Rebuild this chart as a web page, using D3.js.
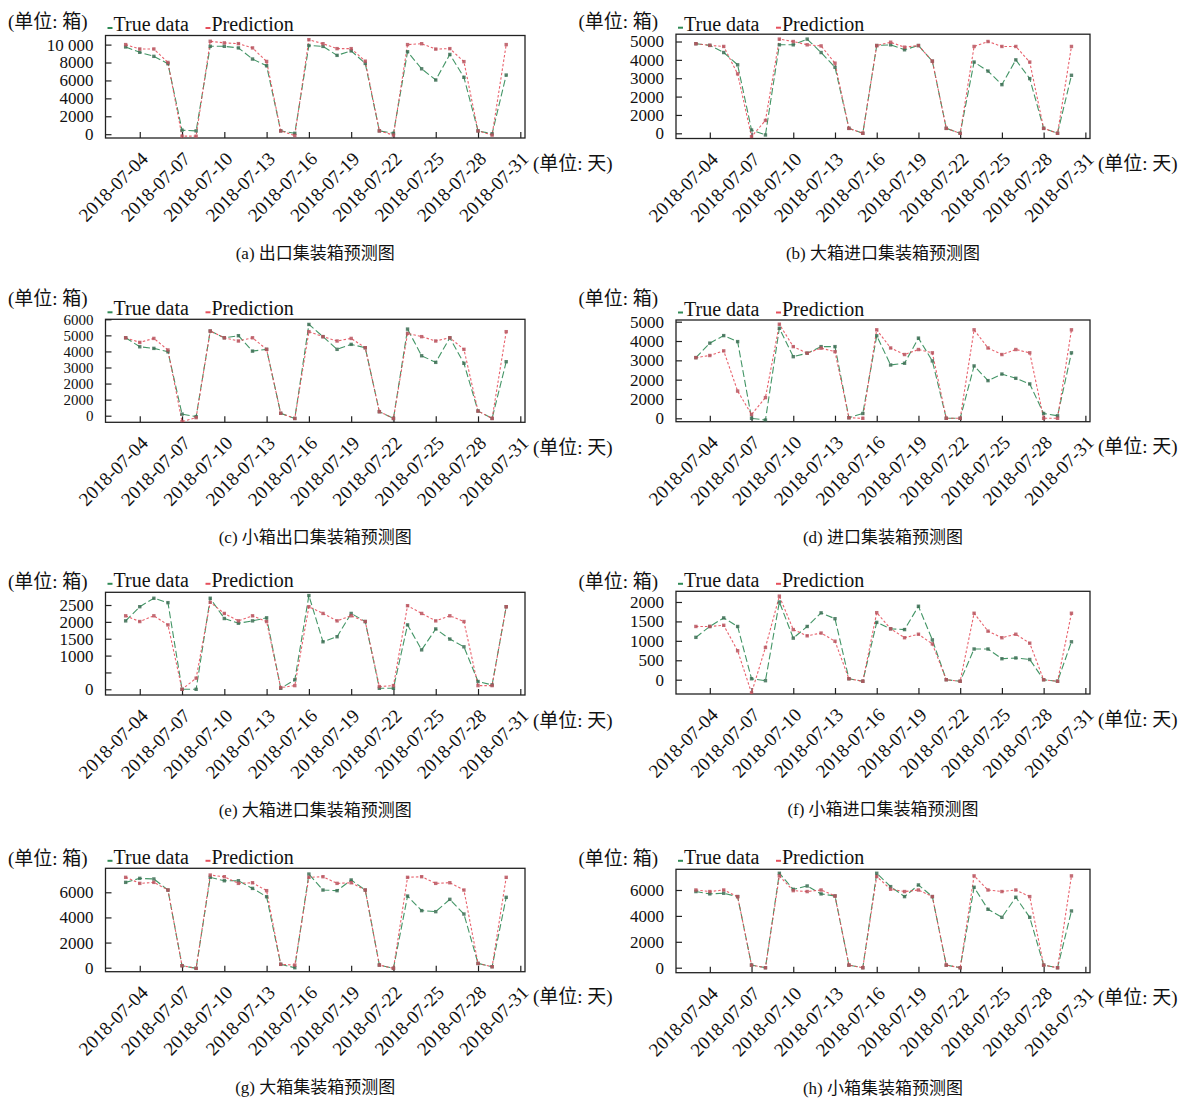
<!DOCTYPE html>
<html>
<head>
<meta charset="utf-8">
<script src="https://cdn.jsdelivr.net/npm/d3@7"></script>
<style>
  body { margin: 0; background: #fff; }
  svg text { font-family: "Liberation Serif", "Times New Roman", "Noto Sans CJK SC", serif; fill: #111; }
</style>
</head>
<body>
<svg id="chart" width="1195" height="1100"></svg>
<script>
// days shown in every panel
var dates = ["2018-07-03", "2018-07-04", "2018-07-05", "2018-07-06", "2018-07-07", "2018-07-08", "2018-07-09",
    "2018-07-10", "2018-07-11", "2018-07-12", "2018-07-13", "2018-07-14", "2018-07-15", "2018-07-16",
    "2018-07-17", "2018-07-18", "2018-07-19", "2018-07-20", "2018-07-21", "2018-07-22", "2018-07-23",
    "2018-07-24", "2018-07-25", "2018-07-26", "2018-07-27", "2018-07-28", "2018-07-29", "2018-07-30"];
var xTicks = ["2018-07-04", "2018-07-07", "2018-07-10", "2018-07-13", "2018-07-16",
    "2018-07-19", "2018-07-22", "2018-07-25", "2018-07-28", "2018-07-31"];
var xLimits = ["2018-07-01T13:40", "2018-07-31T08:00"];

// (a) 出口
var trueA = [9740, 9140, 8690, 7870, 450, 370, 9810, 9810, 9630, 8390, 7640, 370, 100, 9900, 9800, 8800, 9300, 7900, 370, 100, 9200, 7300, 6050, 8900, 6350, 370, 50, 6600];
var predA = [10000, 9510, 9510, 8010, -220, -220, 10370, 10190, 10110, 9630, 8120, 370, -150, 10550, 10100, 9550, 9550, 8150, 370, -100, 10000, 10100, 9500, 9550, 8100, 370, -100, 10000];
// (b) 大箱进口 (top right)
var trueB = [4880, 4790, 4400, 3730, 180, -90, 4820, 4820, 5130, 4400, 3600, 270, 0, 4780, 4820, 4550, 4780, 3930, 270, 0, 3880, 3390, 2650, 4000, 2980, 270, 0, 3160];
var predB = [4880, 4790, 4730, 3240, -180, 700, 5130, 5000, 4820, 4760, 3820, 270, 0, 4780, 4960, 4690, 4780, 3930, 270, 0, 4730, 5000, 4730, 4730, 3880, 270, 0, 4730];
// (c) 小箱出口
var trueC = [4850, 4290, 4190, 3980, 100, -60, 5270, 4850, 4980, 4020, 4130, 150, -170, 5680, 4920, 4130, 4440, 4230, 250, -170, 5390, 3730, 3320, 4850, 3260, 290, -170, 3360];
var predC = [4850, 4560, 4810, 4090, -370, -120, 5270, 4850, 4650, 4850, 4130, 150, -170, 5230, 4920, 4650, 4810, 4230, 250, -170, 5120, 4920, 4650, 4850, 4130, 290, -170, 5230];
// (d) 进口
var trueD = [3140, 3890, 4280, 3970, 0, -90, 4660, 3190, 3370, 3710, 3710, 30, 250, 4270, 2760, 2850, 4150, 2970, 0, 0, 2710, 1950, 2290, 2070, 1780, 250, 130, 3390];
var predD = [3140, 3250, 3490, 1410, 200, 1070, 4870, 3710, 3370, 3630, 3450, 30, 0, 4580, 3640, 3300, 3560, 3390, 0, 0, 4580, 3640, 3300, 3560, 3390, 0, 0, 4580];
// (e) 大箱进口
var trueE = [2030, 2450, 2700, 2570, 0, 0, 2700, 2100, 1960, 2030, 2120, 30, 280, 2780, 1410, 1560, 2250, 2010, 30, 30, 1910, 1170, 1790, 1490, 1260, 230, 130, 2450];
var predE = [2180, 2010, 2180, 1910, 0, 330, 2580, 2250, 2030, 2180, 2010, 50, 110, 2450, 2250, 2030, 2180, 2010, 80, 110, 2480, 2250, 2030, 2180, 2010, 110, 110, 2450];
// (f) 小箱进口
var trueF = [1090, 1370, 1590, 1370, 25, -25, 2000, 1070, 1370, 1720, 1570, 25, -40, 1475, 1310, 1290, 1890, 1025, 0, -40, 790, 790, 540, 560, 520, 0, -40, 975];
var predF = [1370, 1370, 1400, 745, -340, 830, 2150, 1290, 1130, 1200, 990, 25, -40, 1725, 1310, 1080, 1170, 920, 0, -40, 1710, 1250, 1080, 1170, 940, 0, -40, 1710];
// (g) 大箱
var trueG = [6790, 7110, 7060, 6180, 160, -50, 7190, 6920, 6920, 6310, 5650, 270, 0, 7450, 6180, 6130, 6980, 6180, 210, -50, 5700, 4540, 4460, 5440, 4270, 340, 80, 5600];
var predG = [7190, 6710, 6790, 6180, 160, -50, 7370, 7240, 6710, 6760, 6130, 270, 210, 7190, 7240, 6710, 6760, 6180, 210, -50, 7190, 7240, 6710, 6760, 6180, 340, 80, 7190];
// (h) 小箱
var trueH = [5880, 5700, 5750, 5490, 200, 0, 7290, 6050, 6310, 5700, 5540, 200, 0, 7290, 6260, 5490, 6390, 5490, 200, 0, 6210, 4510, 3890, 5440, 3890, 200, 0, 4380];
var predH = [6000, 5880, 6000, 5490, 200, 0, 7090, 5950, 5880, 6000, 5540, 200, 0, 7040, 6060, 5880, 6000, 5490, 200, 0, 7090, 6000, 5880, 6000, 5490, 200, 0, 7090];

// y ticks and their printed labels (the originals print "2000" twice in b, c and d, and skip 500 in e)
var ticksA = [0, 2000, 4000, 6000, 8000, 10000], labelsA = ["0", "2000", "4000", "6000", "8000", "10 000"];
var ticksB = [0, 1000, 2000, 3000, 4000, 5000], labelsB = ["0", "2000", "2000", "3000", "4000", "5000"];
var ticksC = [0, 1000, 2000, 3000, 4000, 5000, 6000], labelsC = ["0", "2000", "2000", "3000", "4000", "5000", "6000"];
var ticksD = [0, 1000, 2000, 3000, 4000, 5000], labelsD = ["0", "2000", "2000", "3000", "4000", "5000"];
var ticksE = [0, 500, 1000, 1500, 2000, 2500], labelsE = ["0", "", "1000", "1500", "2000", "2500"];
var ticksF = [0, 500, 1000, 1500, 2000], labelsF = ["0", "500", "1000", "1500", "2000"];
var ticksG = [0, 2000, 4000, 6000], labelsG = ["0", "2000", "4000", "6000"];
var ticksH = [0, 2000, 4000, 6000], labelsH = ["0", "2000", "4000", "6000"];

var captions = ["(a) 出口集装箱预测图", "(b) 大箱进口集装箱预测图", "(c) 小箱出口集装箱预测图", "(d) 进口集装箱预测图",
    "(e) 大箱进口集装箱预测图", "(f) 小箱进口集装箱预测图", "(g) 大箱集装箱预测图", "(h) 小箱集装箱预测图"];

var seriesNames = ["True data", "Prediction"];
var colors = ["#2f8a55", "#e5505c"];
var markColors = ["#3d6e55", "#b8545e"];

var panels = [
    { t: trueA, p: predA, ticks: ticksA, labels: labelsA, ylim: [-424, 11016], col: 0, top: 35.5, bottom: 138, unitDy: -14, legDy: -11.5, fs: 17 },
    { t: trueB, p: predB, ticks: ticksB, labels: labelsB, ylim: [-283, 5398], col: 1, top: 34.2, bottom: 138.5, unitDy: -13, legDy: -10.5, fs: 17 },
    { t: trueC, p: predC, ticks: ticksC, labels: labelsC, ylim: [-411, 6000], col: 0, top: 319.3, bottom: 422.3, unitDy: -21, legDy: -11, fs: 15 },
    { t: trueD, p: predD, ticks: ticksD, labels: labelsD, ylim: [-176, 5088], col: 1, top: 320, bottom: 421.7, unitDy: -21.5, legDy: -11.5, fs: 17 },
    { t: trueE, p: predE, ticks: ticksE, labels: labelsE, ylim: [-169, 2877], col: 0, top: 592.3, bottom: 695, unitDy: -11, legDy: -12.5, fs: 17 },
    { t: trueF, p: predF, ticks: ticksF, labels: labelsF, ylim: [-368, 2275], col: 1, top: 591.3, bottom: 694, unitDy: -10, legDy: -11.5, fs: 17 },
    { t: trueG, p: predG, ticks: ticksG, labels: labelsG, ylim: [-318, 7909], col: 0, top: 868.3, bottom: 971.7, unitDy: -10, legDy: -11.5, fs: 17 },
    { t: trueH, p: predH, ticks: ticksH, labels: labelsH, ylim: [-386, 7598], col: 1, top: 869.3, bottom: 972.7, unitDy: -11, legDy: -12.5, fs: 17 }
];
var colLeft = [105.5, 676], colRight = [525, 1090];

var parseDay = d3.utcParse("%Y-%m-%d");
var parseTime = d3.utcParse("%Y-%m-%dT%H:%M");
var fmt = d3.utcFormat("%Y-%m-%d");

var svg = d3.select("#chart");

panels.forEach(function (pn, k) {
    var left = colLeft[pn.col], right = colRight[pn.col];
    var g = svg.append("g");

    var x = d3.scaleUtc()
        .domain(xLimits.map(parseTime))
        .range([left, right]);
    var y = d3.scaleLinear()
        .domain(pn.ylim)
        .range([pn.bottom, pn.top]);

    g.append("clipPath").attr("id", "clip" + k)
        .append("rect")
        .attr("x", left).attr("y", pn.top)
        .attr("width", right - left).attr("height", pn.bottom - pn.top);

    // axes, ticks pointing inward
    var xAxis = g.append("g")
        .attr("transform", "translate(0," + pn.bottom + ")")
        .call(d3.axisBottom(x).tickValues(xTicks.map(parseDay)).tickFormat(fmt)
            .tickSizeInner(-6).tickSizeOuter(0));
    xAxis.select(".domain").remove();
    xAxis.selectAll("line").attr("stroke", "#222").attr("stroke-width", 1.2);
    xAxis.selectAll("text")
        .attr("y", 0).attr("dy", null)
        .attr("text-anchor", "end")
        .attr("font-size", 19)
        .attr("transform", "translate(9,22) rotate(-45)");

    var yAxis = g.append("g")
        .attr("transform", "translate(" + left + ",0)")
        .call(d3.axisLeft(y).tickValues(pn.ticks)
            .tickFormat(function (d, i) { return pn.labels[i]; })
            .tickSizeInner(-6).tickSizeOuter(0).tickPadding(12));
    yAxis.select(".domain").remove();
    yAxis.selectAll("line").attr("stroke", "#222").attr("stroke-width", 1.2);
    yAxis.selectAll("text").attr("font-size", pn.fs);

    g.append("rect")
        .attr("x", left).attr("y", pn.top)
        .attr("width", right - left).attr("height", pn.bottom - pn.top)
        .attr("fill", "none").attr("stroke", "#222").attr("stroke-width", 1.3);

    var rows = [pn.t, pn.p];
    var plot = g.append("g").attr("clip-path", "url(#clip" + k + ")");

    var line = d3.line()
        .x(function (d, i) { return x(parseDay(dates[i])); })
        .y(function (d) { return y(d); });

    rows.forEach(function (vals, s) {
        plot.append("path")
            .datum(vals)
            .attr("fill", "none")
            .attr("stroke", colors[s])
            .attr("stroke-width", 1.1)
            .attr("stroke-dasharray", s == 0 ? "7,3" : "2.5,2")
            .attr("opacity", 0.9)
            .attr("d", line);
    });
    rows.forEach(function (vals, s) {
        plot.append("g").selectAll("rect")
            .data(vals)
            .enter().append("rect")
            .attr("x", function (d, i) { return x(parseDay(dates[i])) - 1.7; })
            .attr("y", function (d) { return y(d) - 1.7; })
            .attr("width", 3.4).attr("height", 3.4)
            .attr("fill", markColors[s])
            .attr("opacity", 0.85);
    });

    // unit labels
    g.append("text")
        .attr("x", left - 97.5).attr("y", pn.top + pn.unitDy)
        .attr("dy", "0.35em").attr("font-size", 19)
        .text("(单位: 箱)");
    g.append("text")
        .attr("x", right + 8).attr("y", pn.bottom + 25)
        .attr("dy", "0.35em").attr("font-size", 19)
        .text("(单位: 天)");

    // legend
    var lg = g.append("g").attr("transform", "translate(" + left + "," + (pn.top + pn.legDy) + ")");
    var offs = [0, 98];
    seriesNames.forEach(function (nm, s) {
        lg.append("line")
            .attr("x1", offs[s] + 2).attr("x2", offs[s] + 7)
            .attr("y1", 4).attr("y2", 4)
            .attr("stroke", colors[s]).attr("stroke-width", 2);
        lg.append("text")
            .attr("x", offs[s] + 8).attr("y", 0)
            .attr("dy", "0.35em").attr("font-size", 20)
            .text(nm);
    });

    g.append("text")
        .attr("x", (left + right) / 2).attr("y", pn.bottom + 115)
        .attr("dy", "0.35em").attr("text-anchor", "middle")
        .attr("font-size", 17)
        .text(captions[k]);
});
</script>
</body>
</html>
